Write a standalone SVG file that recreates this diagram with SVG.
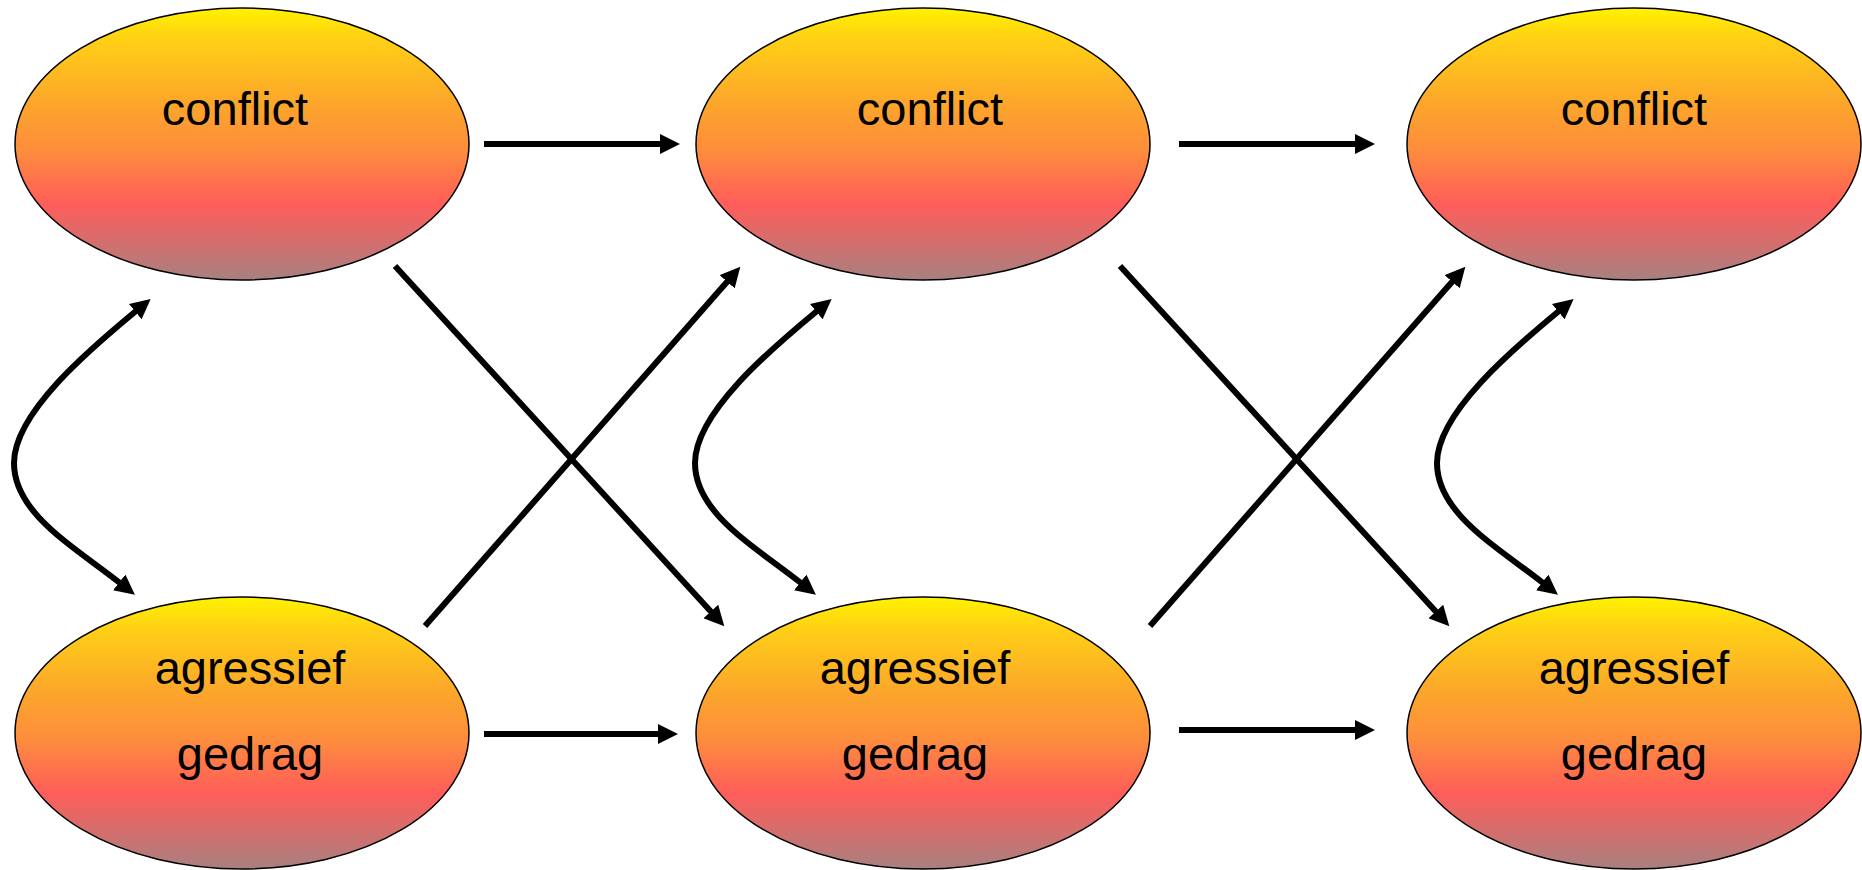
<svg xmlns="http://www.w3.org/2000/svg" width="1862" height="870" viewBox="0 0 1862 870">
<defs>
<linearGradient id="g" x1="0" y1="0" x2="0" y2="1">
<stop offset="0" stop-color="#FFF200"/>
<stop offset="0.12" stop-color="#FFCF16"/>
<stop offset="0.35" stop-color="#FCA62B"/>
<stop offset="0.52" stop-color="#FD8E3C"/>
<stop offset="0.72" stop-color="#FF5D5A"/>
<stop offset="1" stop-color="#A88080"/>
</linearGradient>
<marker id="ah" viewBox="0 -10 20 20" markerWidth="20" markerHeight="20" markerUnits="userSpaceOnUse" refX="1" refY="0" orient="auto-start-reverse">
<path d="M0,-10 L20,0 L0,10 z" fill="#000"/>
</marker>
<path id="curve" d="M136,311 C90,349 14,413 14,463 C14,513 73,546 120,583"/>
</defs>
<style>
.node ellipse{fill:url(#g);stroke:#000;stroke-width:1.5}
.node text{font-family:"Liberation Sans",Arial,sans-serif;font-size:47px;fill:#000;text-anchor:middle}
.conn line,.conn path,.conn use{stroke:#000;stroke-width:6;fill:none}
</style>
<g id="n1" class="node"><ellipse cx="242" cy="144" rx="227" ry="136"/><text x="235" y="125">conflict</text></g>
<g id="n2" class="node"><ellipse cx="923" cy="144" rx="227" ry="136"/><text x="930" y="125">conflict</text></g>
<g id="n3" class="node"><ellipse cx="1634" cy="144" rx="227" ry="136"/><text x="1634" y="125">conflict</text></g>
<g id="n4" class="node"><ellipse cx="242" cy="733" rx="227" ry="136"/><text x="250" y="684">agressief</text><text x="250" y="770">gedrag</text></g>
<g id="n5" class="node"><ellipse cx="923" cy="733" rx="227" ry="136"/><text x="915" y="684">agressief</text><text x="915" y="770">gedrag</text></g>
<g id="n6" class="node"><ellipse cx="1634" cy="733" rx="227" ry="136"/><text x="1634" y="684">agressief</text><text x="1634" y="770">gedrag</text></g>
<g id="connectors" class="conn">
<line x1="484" y1="144" x2="661" y2="144" marker-end="url(#ah)"/>
<line x1="1179" y1="144" x2="1356" y2="144" marker-end="url(#ah)"/>
<line x1="484" y1="734" x2="659" y2="734" marker-end="url(#ah)"/>
<line x1="1179" y1="730" x2="1356" y2="730" marker-end="url(#ah)"/>
<line x1="395" y1="266" x2="711.5" y2="612.2" marker-end="url(#ah)"/>
<line x1="425" y1="626" x2="727.8" y2="281" marker-end="url(#ah)"/>
<line x1="1120" y1="266" x2="1436.5" y2="612.2" marker-end="url(#ah)"/>
<line x1="1150" y1="626" x2="1452.8" y2="281" marker-end="url(#ah)"/>
<path d="M136,311 C90,349 14,413 14,463 C14,513 73,546 120,583" marker-start="url(#ah)" marker-end="url(#ah)"/>
<path d="M817,311 C771,349 695,413 695,463 C695,513 754,546 801,583" marker-start="url(#ah)" marker-end="url(#ah)"/>
<path d="M1559,311 C1513,349 1437,413 1437,463 C1437,513 1496,546 1543,583" marker-start="url(#ah)" marker-end="url(#ah)"/>
</g>
</svg>
